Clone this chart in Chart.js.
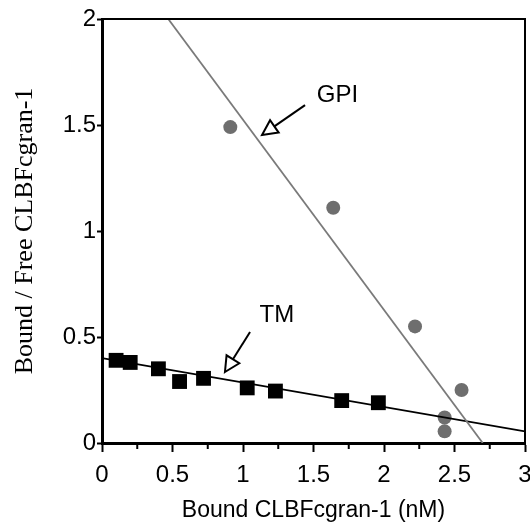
<!DOCTYPE html>
<html>
<head>
<meta charset="utf-8">
<script src="https://cdn.jsdelivr.net/npm/chart.js@4.4.1/dist/chart.umd.min.js"></script>
<style>
  html, body { margin: 0; padding: 0; background: #fff; }
  #wrap { width: 530px; height: 526px; }
</style>
</head>
<body>
<div id="wrap"><canvas id="scatchard" width="530" height="526"></canvas></div>
<script>
// values
var gpiX = [0.91, 1.64, 2.22, 2.55, 2.43, 2.43];
var gpiY = [1.49, 1.11, 0.55, 0.25, 0.12, 0.055];
var tmX = [0.10, 0.20, 0.40, 0.55, 0.72, 1.03, 1.23, 1.70, 1.96];
var tmY = [0.39, 0.38, 0.35, 0.29, 0.305, 0.26, 0.245, 0.20, 0.19];
// regression lines (end points)
var gpiFitX = [0.47, 2.70];
var gpiFitY = [2.0, 0.0];
var tmFitX = [0, 3];
var tmFitY = [0.40, 0.055];
var xTicks = [0, 0.5, 1, 1.5, 2, 2.5, 3];
var yTicks = [0, 0.5, 1, 1.5, 2];

function pts(xs, ys) {
  return xs.map(function(x, i) { return { x: x, y: ys[i] }; });
}

var sans = "Arial, 'Liberation Sans', sans-serif";
var serif = "'Times New Roman', 'Liberation Serif', serif";

// labels with arrows, in data units
var notes = [
  { text: 'GPI', tx: 1.67, ty: 1.64, from: [1.44, 1.594], to: [1.135, 1.453] },
  { text: 'TM', tx: 1.24, ty: 0.604, from: [1.05, 0.524], to: [0.872, 0.335] }
];

var extras = {
  id: 'extras',
  afterDraw: function(chart) {
    var ctx = chart.ctx, a = chart.chartArea;
    var xs = chart.scales.x, ys = chart.scales.y;
    ctx.save();
    // top and right frame
    ctx.strokeStyle = '#000';
    ctx.lineWidth = 2;
    ctx.beginPath();
    ctx.moveTo(a.left, a.top); ctx.lineTo(a.right, a.top); ctx.lineTo(a.right, a.bottom);
    ctx.stroke();
    // minor x ticks
    for (var v = 0.25; v < 3; v += 0.5) {
      var px = xs.getPixelForValue(v);
      ctx.beginPath();
      ctx.moveTo(px, a.bottom); ctx.lineTo(px, a.bottom + 6);
      ctx.stroke();
    }
    // annotations
    notes.forEach(function(n) {
      var x1 = xs.getPixelForValue(n.from[0]), y1 = ys.getPixelForValue(n.from[1]);
      var x2 = xs.getPixelForValue(n.to[0]), y2 = ys.getPixelForValue(n.to[1]);
      var ang = Math.atan2(y2 - y1, x2 - x1);
      var hl = 15, hw = 7.5;
      var bx = x2 - hl * Math.cos(ang), by = y2 - hl * Math.sin(ang);
      ctx.lineWidth = 2;
      ctx.beginPath();
      ctx.moveTo(x1, y1); ctx.lineTo(bx, by);
      ctx.stroke();
      ctx.beginPath();
      ctx.moveTo(x2, y2);
      ctx.lineTo(bx + hw * Math.sin(ang), by - hw * Math.cos(ang));
      ctx.lineTo(bx - hw * Math.sin(ang), by + hw * Math.cos(ang));
      ctx.closePath();
      ctx.fillStyle = '#fff';
      ctx.fill();
      ctx.stroke();
      ctx.fillStyle = '#000';
      ctx.font = '24px ' + sans;
      ctx.textAlign = 'center';
      ctx.textBaseline = 'middle';
      ctx.fillText(n.text, xs.getPixelForValue(n.tx), ys.getPixelForValue(n.ty));
    });
    ctx.restore();
  }
};

function plain(v) { return String(v); }

new Chart(document.getElementById('scatchard'), {
  type: 'scatter',
  data: {
    datasets: [
      {
        label: 'GPI fit',
        data: pts(gpiFitX, gpiFitY),
        showLine: true,
        borderColor: '#7a7a7a',
        borderWidth: 1.8,
        pointRadius: 0
      },
      {
        label: 'TM fit',
        data: pts(tmFitX, tmFitY),
        showLine: true,
        borderColor: '#000',
        borderWidth: 1.8,
        pointRadius: 0
      },
      {
        label: 'GPI',
        data: pts(gpiX, gpiY),
        pointStyle: 'circle',
        pointRadius: 7,
        backgroundColor: '#6e6e6e',
        borderWidth: 0
      },
      {
        label: 'TM',
        data: pts(tmX, tmY),
        pointStyle: 'rect',
        pointRadius: 10.5,
        backgroundColor: '#000',
        borderWidth: 0
      }
    ]
  },
  options: {
    responsive: false,
    animation: false,
    events: [],
    layout: { autoPadding: false, padding: { top: 19, right: 5, left: 0, bottom: 0 } },
    plugins: {
      legend: { display: false },
      tooltip: { enabled: false }
    },
    scales: {
      x: {
        type: 'linear',
        min: 0,
        max: 3,
        afterBuildTicks: function(s) { s.ticks = xTicks.map(function(v) { return { value: v }; }); },
        afterFit: function(s) { s.height = 83; s.paddingLeft = 0; s.paddingRight = 0; },
        border: { display: true, color: '#000', width: 3 },
        grid: { drawOnChartArea: false, drawTicks: true, tickLength: 9, tickColor: '#000', tickWidth: 2 },
        ticks: { color: '#000', padding: 9, font: { family: sans, size: 24 }, maxRotation: 0, callback: plain },
        title: {
          display: true,
          text: 'Bound CLBFcgran-1 (nM)',
          color: '#000',
          font: { family: sans, size: 23 },
          padding: { top: 0, bottom: 2 }
        }
      },
      y: {
        type: 'linear',
        min: 0,
        max: 2,
        afterBuildTicks: function(s) { s.ticks = yTicks.map(function(v) { return { value: v }; }); },
        afterFit: function(s) { s.width = 102; s.paddingTop = 0; s.paddingBottom = 0; },
        border: { display: true, color: '#000', width: 3 },
        grid: { drawOnChartArea: false, drawTicks: true, tickLength: 5, tickColor: '#000', tickWidth: 2 },
        ticks: { color: '#000', padding: 1, font: { family: sans, size: 24 }, callback: plain },
        title: {
          display: true,
          text: 'Bound / Free CLBFcgran-1',
          color: '#000',
          font: { family: serif, size: 26 },
          padding: { top: 10, bottom: 0 }
        }
      }
    }
  },
  plugins: [extras]
});
</script>
</body>
</html>
